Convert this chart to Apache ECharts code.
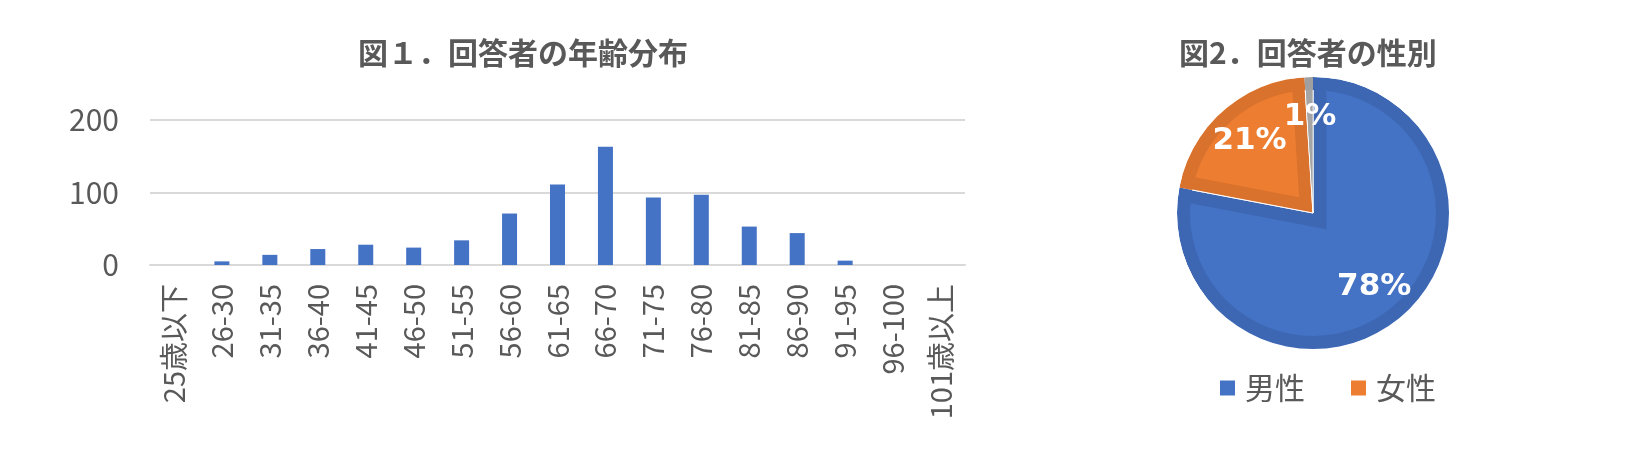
<!DOCTYPE html>
<html>
<head>
<meta charset="utf-8">
<script src="https://cdn.jsdelivr.net/npm/echarts@6/dist/echarts.min.js"></script>
<style>
html,body{margin:0;padding:0;background:#fff;}
#c{width:1640px;height:456px;}
</style>
</head>
<body>
<div id="c"></div>
<script>
// ---- data ----
const ageCategories = ['25歳以下','26-30','31-35','36-40','41-45','46-50','51-55','56-60','61-65','66-70','71-75','76-80','81-85','86-90','91-95','96-100','101歳以上'];
const ageCounts = [0, 5, 14, 22, 28, 24, 34, 71, 111, 163, 93, 97, 53, 44, 6, 0, 0];
const genderNames = ['男性', '女性', '無回答'];
const genderShares = [78, 21, 1];
const legendNames = ['男性', '女性'];
const yMin = 0, yMax = 200, yStep = 100;

// ---- styles ----
const lightColors = ['#4472C4', '#ED7D31', '#A5A5A5'];
const darkColors = ['#3D67B3', '#D9722C', '#A0A0A0'];
const cjk = '"Noto Sans CJK JP", "Noto Sans", sans-serif';
const txt = '#595959';
const pieCenter = [1313, 213];

const pieData = (colors, extra) => genderNames.map((n, i) => Object.assign({
  name: n, value: genderShares[i],
  itemStyle: { color: colors[i] }
}, extra ? extra(i) : {}));

const labelSeries = (showIdx) => ({
  type: 'pie', center: pieCenter, radius: [50, 136], startAngle: 90, clockwise: true,
  silent: true, avoidLabelOverlap: false, labelLine: { show: false },
  labelLayout: { hideOverlap: false },
  label: { position: 'inside', formatter: '{c}%', color: '#fff',
           fontFamily: '"DejaVu Sans", Verdana, sans-serif', fontWeight: 'bold', fontSize: 31 },
  itemStyle: { color: 'rgba(0,0,0,0)' },
  data: genderNames.map((n, i) => ({ name: n, value: genderShares[i],
    label: { show: showIdx.indexOf(i) >= 0 } }))
});

const chart = echarts.init(document.getElementById('c'), null, { renderer: 'canvas' });
chart.setOption({
  animation: false,
  backgroundColor: '#fff',
  textStyle: { fontFamily: cjk },
  title: [
    { text: '図１．回答者の年齢分布', left: 358, top: 38, padding: 0, z: 20,
      textStyle: { fontFamily: cjk, fontSize: 30, fontWeight: 'bold', color: txt } },
    { text: '図2．回答者の性別', left: 1179, top: 38, padding: 0, z: 20,
      textStyle: { fontFamily: cjk, fontSize: 30, fontWeight: 'bold', color: txt } }
  ],
  legend: {
    data: legendNames.map((n, i) => ({ name: n, itemStyle: { color: lightColors[i] } })),
    left: 1218, top: 373, padding: 0,
    icon: 'rect', itemWidth: 17, itemHeight: 17, itemGap: 44,
    textStyle: { fontFamily: cjk, fontSize: 30, color: txt, padding: [0, 0, 0, 4] },
    selectedMode: false
  },
  grid: { left: 150, right: 675, top: 120, bottom: 191, outerBoundsMode: 'none' },
  xAxis: {
    type: 'category', data: ageCategories,
    axisLine: { show: true, lineStyle: { color: '#D9D9D9', width: 2 } },
    axisTick: { show: false },
    axisLabel: { interval: 0, rotate: 90, margin: 19, fontFamily: cjk, fontSize: 29, color: txt }
  },
  yAxis: {
    type: 'value', min: yMin, max: yMax, interval: yStep,
    axisLine: { show: false }, axisTick: { show: false },
    axisLabel: { margin: 31, fontFamily: cjk, fontSize: 30, color: txt },
    splitLine: { lineStyle: { color: '#D9D9D9', width: 2 } }
  },
  series: [
    { type: 'bar', data: ageCounts, barWidth: 15, itemStyle: { color: '#4472C4' } },
    // dark base
    { type: 'pie', name: 'base', center: pieCenter, radius: [0, 136], startAngle: 90, clockwise: true,
      silent: true, label: { show: false }, labelLine: { show: false },
      itemStyle: { borderColor: '#fff', borderWidth: 1 },
      data: pieData(darkColors) },
    // light interior, offset inward via selection offset
    { type: 'pie', name: 'light', center: pieCenter, radius: [0, 138.5], startAngle: 90, clockwise: true,
      selectedMode: 'multiple', selectedOffset: 21,
      label: { show: false }, labelLine: { show: false },
      emphasis: { disabled: true },
      data: pieData(lightColors, i => ({ selected: true, select: { itemStyle: { color: lightColors[i], borderWidth: 0 } } })) },
    // dark outer band
    { type: 'pie', name: 'band', center: pieCenter, radius: [123, 136], startAngle: 90, clockwise: true,
      silent: true, label: { show: false }, labelLine: { show: false },
      data: pieData(darkColors) },
    // white mask outside the circle
    { type: 'pie', name: 'mask', center: pieCenter, radius: [136, 162], startAngle: 90, clockwise: true,
      silent: true, label: { show: false }, labelLine: { show: false },
      data: [{ name: 'mask', value: 1, itemStyle: { color: '#fff' } }] },
    // labels
    Object.assign(labelSeries([0, 1]), { name: 'labelsA' }),
    Object.assign(labelSeries([2]), { name: 'labelsB' })
  ]
});
</script>
</body>
</html>
